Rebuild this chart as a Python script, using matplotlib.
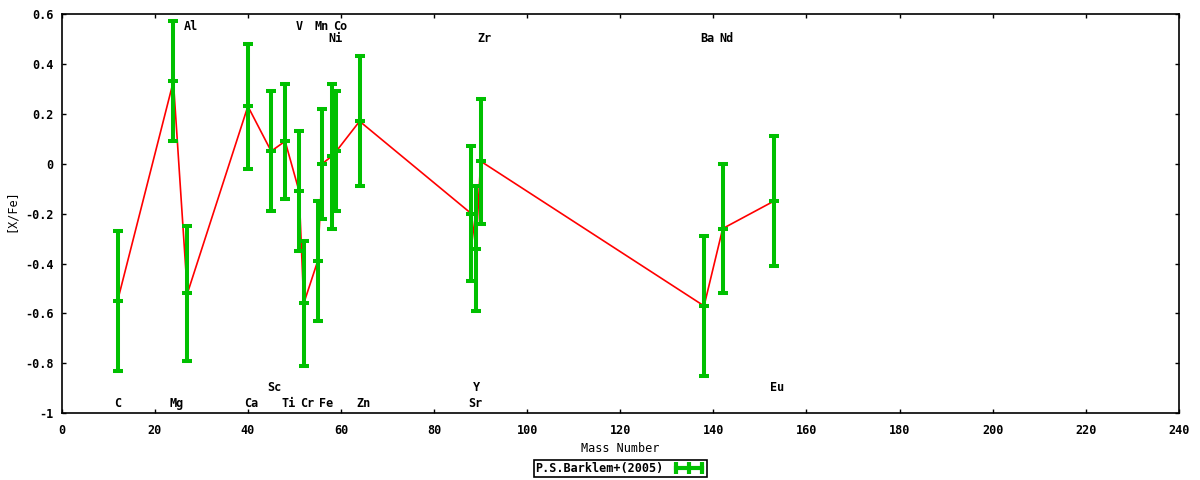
import matplotlib.pyplot as plt
from matplotlib.lines import Line2D
from matplotlib.ticker import FuncFormatter, MultipleLocator

elements = ["C", "Mg", "Al", "Ca", "Sc", "Ti", "V", "Cr", "Mn", "Fe",
            "Ni", "Co", "Zn", "Sr", "Y", "Zr", "Ba", "Nd", "Eu"]
mass = [12, 24, 27, 40, 45, 48, 51, 52, 55, 56,
        58, 59, 64, 88, 89, 90, 138, 142, 153]
xfe = [-0.55, 0.33, -0.52, 0.23, 0.05, 0.09, -0.11, -0.56, -0.39, 0.00,
       0.03, 0.05, 0.17, -0.20, -0.34, 0.01, -0.57, -0.26, -0.15]
xfe_err = [0.28, 0.24, 0.27, 0.25, 0.24, 0.23, 0.24, 0.25, 0.24, 0.22,
           0.29, 0.24, 0.26, 0.27, 0.25, 0.25, 0.28, 0.26, 0.26]
label_y = [-0.96, -0.96, 0.55, -0.96, -0.895, -0.96, 0.55, -0.96, 0.55, -0.96,
           0.50, 0.55, -0.96, -0.96, -0.895, 0.50, 0.50, 0.50, -0.895]

plt.rcParams["font.family"] = "DejaVu Sans Mono"
plt.rcParams["font.weight"] = "bold"
plt.rcParams["font.size"] = 8.5
plt.rcParams["axes.unicode_minus"] = False

green = "#00c000"
fig = plt.figure(figsize=(12, 4.8), dpi=100)
ax = fig.add_axes([0.0514, 0.139, 0.931, 0.832])

ax.plot(mass, xfe, color="red", lw=1.2, zorder=2)
ax.errorbar(mass, xfe, yerr=xfe_err, fmt="_", color=green, ms=6.7, mew=2.9,
            elinewidth=2.9, capsize=3.35, capthick=2.9, zorder=3)

for name, x, y in zip(elements, mass, label_y):
    ax.annotate(name, (x, y), xytext=(-2.56, 0), textcoords="offset points",
                ha="left", va="center")

ax.set_xlim(0, 240)
ax.set_ylim(-1, 0.6)
ax.xaxis.set_major_locator(MultipleLocator(20))
ax.yaxis.set_major_locator(MultipleLocator(0.2))
ax.yaxis.set_major_formatter(FuncFormatter(lambda v, p: "%g" % round(v, 6)))
ax.tick_params(direction="in", length=3, width=1, top=True, right=True)
ax.tick_params(axis="x", pad=7.5)
ax.tick_params(axis="y", pad=5.8)
for s in ax.spines.values():
    s.set_linewidth(1.2)

ax.set_xlabel("Mass Number")
ax.xaxis.set_label_coords(0.5, -0.072)
ax.set_ylabel("[X/Fe]")
ax.yaxis.set_label_coords(-0.039, 0.507)

handle = Line2D([], [], color=green, lw=3, marker="|", ms=8, mew=3)
leg = ax.legend([handle], ["P.S.Barklem+(2005)"], numpoints=3, markerfirst=False,
                loc="center", bbox_to_anchor=(0.517, 0.0235),
                bbox_transform=fig.transFigure, fancybox=False, framealpha=1,
                edgecolor="black", borderpad=0.15, handlelength=2.8,
                handletextpad=0.7, borderaxespad=0)
leg.get_frame().set_linewidth(1.2)

fig.savefig("out.png", dpi=100)
